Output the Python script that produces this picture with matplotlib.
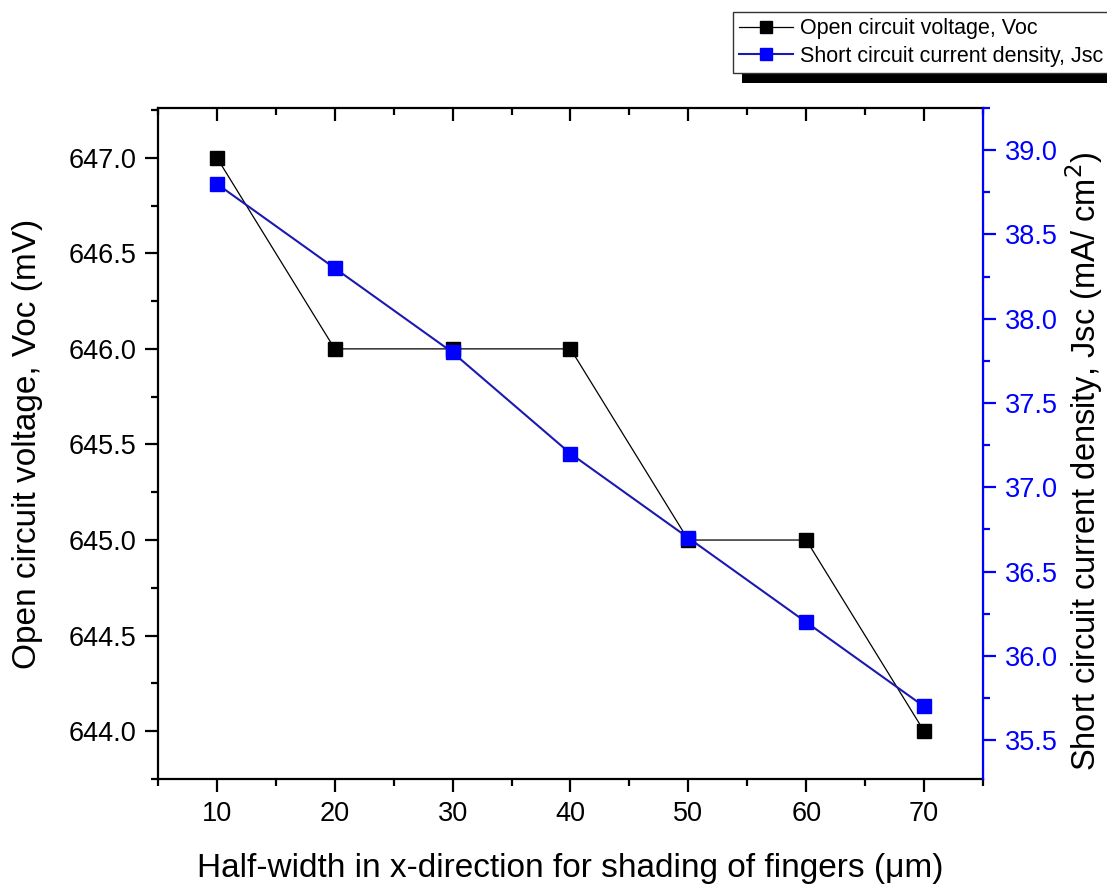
import matplotlib
matplotlib.use("Agg")
import matplotlib.pyplot as plt
from matplotlib.patches import Rectangle
from matplotlib.ticker import MultipleLocator

plt.rcParams['font.family'] = ['Liberation Sans', 'DejaVu Sans']

# data
half_width = [10, 20, 30, 40, 50, 60, 70]
voc = [647.0, 646.0, 646.0, 646.0, 645.0, 645.0, 644.0]
jsc = [38.8, 38.3, 37.8, 37.2, 36.7, 36.2, 35.7]

blue = '#0000ff'

fig = plt.figure(figsize=(11.07, 8.84), dpi=100)
ax1 = fig.add_axes([0.1427, 0.1188, 0.888 - 0.1427, 0.8778 - 0.1188])
ax2 = ax1.twinx()

l1, = ax1.plot(half_width, voc, 's-', color='black', lw=0.9, ms=9.5,
               label='Open circuit voltage, Voc')
l2, = ax2.plot(half_width, jsc, 's-', color='#1a1ab0', lw=1.5, ms=9.5,
               mfc=blue, mec=blue, label='Short circuit current density, Jsc')

ax1.set_xlim(5, 75)
ax1.set_ylim(643.75, 647.26)
ax2.set_ylim(35.27, 39.25)

ax1.xaxis.set_major_locator(MultipleLocator(10))
ax1.xaxis.set_minor_locator(MultipleLocator(5))
ax1.yaxis.set_major_locator(MultipleLocator(0.5))
ax1.yaxis.set_minor_locator(MultipleLocator(0.25))
ax2.yaxis.set_major_locator(MultipleLocator(0.5))
ax2.yaxis.set_minor_locator(MultipleLocator(0.25))
ax1.yaxis.set_major_formatter('{x:.1f}')
ax2.yaxis.set_major_formatter('{x:.1f}')

for s in ['left', 'bottom', 'top']:
    ax1.spines[s].set_linewidth(1.6)
ax2.spines['right'].set_linewidth(1.6)
ax2.spines['right'].set_color(blue)
for s in ['left', 'bottom', 'top']:
    ax2.spines[s].set_visible(False)

ax1.tick_params(axis='both', which='major', direction='out', length=9.5, width=1.6,
                labelsize=19.5, pad=6)
ax1.tick_params(axis='both', which='minor', direction='out', length=5, width=1.6)
ax1.tick_params(axis='x', which='both', top=True, labeltop=False)
ax2.tick_params(axis='y', which='major', direction='out', length=9.5, width=1.6,
                labelsize=19.5, colors=blue, pad=6)
ax2.tick_params(axis='y', which='minor', direction='out', length=5, width=1.6,
                colors=blue)

# top ticks point inward
for t in ax1.xaxis.get_major_ticks() + ax1.xaxis.get_minor_ticks():
    t.tick2line.set_marker(3)

ax1.set_xlabel('Half-width in x-direction for shading of fingers (μm)',
               fontsize=24, labelpad=19)
ax1.set_ylabel('Open circuit voltage, Voc (mV)', fontsize=24)
ax2.set_ylabel('Short circuit current density, Jsc (mA/ cm$^2$)', fontsize=23.5)
ax1.yaxis.set_label_coords(-0.139, 0.5)
ax2.yaxis.set_label_coords(1.097, 0.474)

leg = fig.legend(handles=[l1, l2], loc='upper left', mode='expand',
                 bbox_to_anchor=(733 / 1107, 1 - 68 / 884, 0.36, 56 / 884),
                 fontsize=15.5, frameon=True, fancybox=False, framealpha=1,
                 borderaxespad=0, borderpad=0.3, handlelength=2.5,
                 handletextpad=0.3, labelspacing=0.3, markerscale=0.85)
leg.get_frame().set_edgecolor('#333333')
leg.get_frame().set_linewidth(1.0)

# black drop shadow under the legend box
fig.canvas.draw()
bb = leg.get_window_extent()
shadow = Rectangle((bb.x0 + 9, bb.y0 - 10), bb.width, bb.height, transform=None,
                   facecolor='black', edgecolor='none', zorder=4)
fig.add_artist(shadow)

fig.savefig('out.png', dpi=100)
